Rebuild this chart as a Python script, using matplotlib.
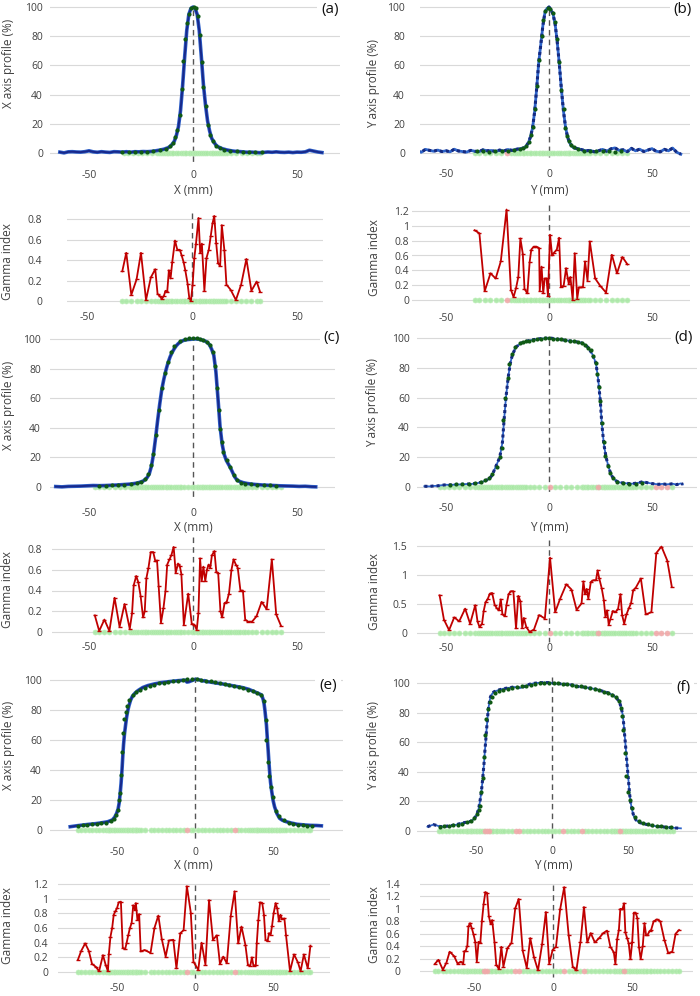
import numpy as np
import matplotlib.pyplot as plt

plt.rcParams['font.family'] = ['Open Sans', 'DejaVu Sans']

W, H = 700, 996

# ---------------- data (mm, value) ----------------
# (a) X profile, narrow field
a_meas = [(-64, 0.6), (-62, 0.1), (-60, 0.8), (-58, 0.9), (-56, 0.7), (-54, 0.6), (-52, 0.9), (-50, 1.5),
          (-48, 0.8), (-46, 0.5), (-44, 0.9), (-42, 0.6), (-40, 0.4), (-38, 0.9), (-36, 0.8), (-34, 0.6),
          (-32, 0.9), (-30, 0.5), (-28, 0.9), (-26, 0.8), (-24, 1.0), (-22, 0.9), (-20, 1.1), (-18, 1.5),
          (-16, 2.0), (-14, 2.6), (-12, 3.6), (-11, 4.5), (-10, 6), (-9, 8), (-8, 12), (-7, 18), (-6, 29),
          (-5, 46), (-4, 66), (-3, 84), (-2, 95), (-1, 99), (0, 100), (1, 99), (2, 95), (3, 84), (4, 66),
          (5, 47), (6, 33), (7, 22), (8, 15), (9, 10), (10, 7.5), (11, 5.5), (12, 4.3), (14, 3.0), (16, 2.2),
          (18, 1.6), (20, 1.2), (22, 1.0), (24, 0.8), (26, 0.5), (28, 0.6), (30, 0.4), (32, 0.2), (34, 0.4),
          (36, 0.7), (38, 0.5), (40, 0.8), (42, 0.5), (44, 0.4), (46, 0.6), (48, 0.3), (50, 0.6), (52, 0.5),
          (54, 0.8), (56, 1.9), (58, 1.3), (60, 0.7), (62, 0.3)]
a_calc = [(-34, 0.8), (-31, 0.9), (-28, 0.8), (-25, 1.0), (-22, 1.0), (-19, 1.2), (-16, 1.8), (-13, 2.8),
          (-11, 4.5), (-9.7, 7), (-8.5, 10.7), (-7.5, 16), (-6.2, 26), (-5.2, 44), (-4.6, 63), (-3.7, 78),
          (-2.9, 89), (-2.1, 95), (-0.8, 99), (0.5, 100), (1.4, 99.5), (2.4, 94), (3.2, 81), (4.2, 62),
          (5.0, 45), (6.1, 32), (7.3, 19), (8.4, 12.5), (9.7, 8), (11, 5), (13, 3.2), (15, 2.2), (18, 1.5),
          (21, 1.2), (24, 1.0), (27, 0.9), (30, 0.8), (33, 0.8)]
a_gamma = [(-33.2, 0.29), (-31.3, 0.47), (-28.9, 0.06), (-26.4, 0.21), (-24.3, 0.47), (-21.9, 0.01),
           (-19.6, 0.23), (-17.5, 0.31), (-16.4, 0.07), (-15.4, 0.05), (-14.4, 0.02), (-13.4, 0.05),
           (-12.6, 0.10), (-11.8, 0.09), (-11.0, 0.30), (-10.2, 0.22), (-9.4, 0.38), (-8.1, 0.59),
           (-7.0, 0.50), (-5.8, 0.50), (-5.0, 0.45), (-4.0, 0.38), (-3.2, 0.30), (-2.1, 0.17), (-1.3, 0.03),
           (-0.5, 0.0), (0.3, 0.16), (1.1, 0.42), (1.9, 0.56), (3.1, 0.81), (3.9, 0.47), (4.7, 0.56),
           (5.9, 0.10), (6.9, 0.42), (8.0, 0.50), (8.9, 0.63), (9.8, 0.76), (10.6, 0.83), (11.5, 0.57),
           (12.4, 0.37), (13.4, 0.34), (14.2, 0.74), (15.4, 0.50), (16.4, 0.16), (18.4, 0.11), (20.9, 0.01),
           (23.4, 0.16), (25.9, 0.41), (28.3, 0.10), (30.8, 0.19), (32.4, 0.09)]

# (b) Y profile, narrow field
b_meas = [(-64, 1.5), (-62, 0.5), (-60, 2.5), (-58, 1.8), (-56, 1.2), (-54, 2.0), (-52, 1.0), (-50, 1.5),
          (-48, 0.8), (-46, 2.6), (-44, 1.4), (-42, 1.0), (-40, 0.6), (-38, 1.8), (-36, 1.2), (-34, 0.9),
          (-32, 2.2), (-30, 1.5), (-28, 1.7), (-26, 1.0), (-24, 2.0), (-22, 1.3), (-20, 2.4), (-18, 1.8),
          (-16, 2.5), (-14, 3.0), (-12, 3.5), (-11, 5), (-10, 7), (-9, 11), (-8, 17), (-7, 28), (-6, 44),
          (-5, 62), (-4, 74), (-3, 87), (-2, 96), (-1, 99), (0, 100), (1, 98), (2, 95), (3, 88), (4, 76),
          (5, 61), (6, 44), (7, 29), (8, 18), (9, 11), (10, 7), (11, 5), (12, 3.5), (14, 3.0), (16, 2.2),
          (18, 1.5), (20, 1.8), (22, 0.8), (24, 1.5), (26, 2.5), (28, 1.2), (30, 2.8), (32, 3.5), (34, 1.8),
          (36, 2.2), (38, 0.9), (40, 3.2), (42, 1.5), (44, 2.6), (46, 1.0), (48, 2.0), (50, 3.0), (52, 1.2),
          (54, 0.8), (56, 2.5), (58, 1.5), (60, 3.4), (62, 0.5), (64, -0.8)]
b_calc = [(-35, 1.5), (-32, 1.2), (-29, 1.0), (-26, 1.6), (-23, 1.2), (-20, 1.5), (-17, 2.0), (-14, 2.8),
          (-12.5, 3.6), (-11, 5), (-9.9, 7.5), (-8.9, 12), (-8.0, 17.6), (-6.8, 30), (-6.0, 46), (-5.0, 64),
          (-3.5, 80), (-2.7, 91), (-1.9, 97), (-0.6, 99), (0.5, 98.6), (1.7, 96), (3.0, 89.5), (3.8, 78),
          (5.0, 62), (6.0, 43), (7.1, 30), (7.9, 17), (8.7, 11.4), (9.5, 8), (10.6, 5.7), (12, 4), (14, 2.8),
          (17, 1.6), (20, 1.3), (23, 1.5), (26, 1.2), (29, 1.4), (32, 1.0), (35, 1.5)]
b_gamma = [(-36.1, 0.94), (-33.8, 0.90), (-31.2, 0.12), (-28.4, 0.36), (-25.9, 0.29), (-23.4, 0.52),
           (-20.6, 1.22), (-18.5, 0.14), (-17.2, 0.04), (-16.0, 0.16), (-14.9, 0.31), (-13.9, 0.83),
           (-12.7, 0.62), (-11.9, 0.15), (-10.5, 0.09), (-9.4, 0.51), (-8.6, 0.68), (-7.4, 0.72),
           (-6.1, 0.72), (-4.8, 0.70), (-4.5, 0.12), (-3.6, 0.45), (-2.8, 0.09), (-2.1, 0.29), (-1.2, 0.29),
           (-0.5, 0.05), (0.5, 0.88), (1.5, 0.60), (2.5, 0.64), (3.8, 0.68), (4.9, 0.84), (5.8, 0.18),
           (7.1, 0.19), (8.3, 0.43), (9.1, 0.29), (9.6, 0.22), (10.4, 0.31), (11.5, 0.0), (12.5, 0.63),
           (13.7, 0.02), (14.5, 0.17), (15.7, 0.17), (16.5, 0.18), (17.5, 0.52), (18.7, 0.26), (19.8, 0.79),
           (22.4, 0.29), (24.9, 0.19), (27.7, 0.10), (30.5, 0.61), (33.0, 0.36), (35.6, 0.58), (38.1, 0.48)]

# (c) X profile, medium field
c_meas = [(-66, 0.3), (-63, 0.1), (-60, 0.4), (-57, 0.5), (-54, 0.6), (-51, 0.8), (-48, 1.0), (-45, 0.9),
          (-42, 1.0), (-39, 1.2), (-36, 1.4), (-33, 1.7), (-30, 2.0), (-28, 2.4), (-26, 3.0), (-24, 4.0),
          (-23, 5.0), (-22, 6.5), (-21, 9), (-20, 14), (-19, 22), (-18, 33), (-17, 45), (-16, 56), (-15, 66),
          (-14, 73), (-13, 79), (-12, 84), (-11, 88), (-10, 91), (-9, 93.5), (-8, 95.5), (-7, 97), (-6, 98),
          (-5, 98.8), (-4, 99.3), (-3, 99.5), (-2, 99.7), (-1, 99.8), (0, 100), (1, 100), (2, 100), (3, 99.8),
          (4, 99.5), (5, 99), (6, 98.5), (7, 97.5), (8, 96), (9, 93), (10, 89), (11, 78), (12, 60), (13, 41),
          (14, 29), (15, 22), (16, 18), (17, 15.5), (18, 13), (19, 10), (20, 7), (21, 5), (22, 4), (24, 3.0),
          (26, 2.4), (28, 2.0), (30, 1.7), (33, 1.4), (36, 1.2), (39, 1.0), (42, 0.8), (45, 0.7), (48, 0.6),
          (51, 0.4), (54, 0.5), (57, 0.2), (59, 0.1)]
c_calc = [(-45, 0.9), (-42, 1.0), (-39, 1.1), (-36, 1.3), (-33, 1.6), (-30, 2.0), (-27, 2.6), (-25, 3.2),
          (-23, 5.5), (-21.5, 9), (-20.3, 14.7), (-19.1, 22.6), (-17.8, 35), (-16.5, 52), (-15.0, 66.6),
          (-13.4, 76.7), (-12.1, 84.7), (-10.5, 91), (-8.9, 95.5), (-6.4, 98.6), (-4, 100), (-2, 100.5),
          (0, 100.5), (2, 100.5), (3.3, 100), (5, 99.5), (6.5, 98), (8.1, 96), (9.7, 91), (10.7, 82),
          (11.7, 66.6), (12.3, 52), (13.0, 39.5), (13.8, 30.5), (14.6, 23.7), (16.3, 18), (17.9, 13.5),
          (19.6, 8), (21.2, 4.5), (22.9, 2.7), (25, 2.2), (28, 1.8), (31, 1.5), (34, 1.3), (37, 1.1), (40, 1.0)]
c_gamma = [(-47.2, 0.16), (-45.1, 0.01), (-42.6, 0.12), (-40.2, 0.01), (-37.7, 0.33), (-35.3, 0.05),
           (-32.9, 0.27), (-30.4, 0.03), (-29.3, 0.18), (-28.5, 0.45), (-27.3, 0.54), (-26.3, 0.48),
           (-25.2, 0.35), (-24.0, 0.14), (-23.2, 0.20), (-22.4, 0.52), (-21.4, 0.62), (-20.3, 0.77),
           (-19.1, 0.77), (-18.1, 0.68), (-17.3, 0.69), (-16.5, 0.44), (-15.4, 0.09), (-14.2, 0.23),
           (-13.2, 0.40), (-12.4, 0.65), (-11.3, 0.70), (-10.4, 0.74), (-9.3, 0.82), (-8.3, 0.57),
           (-7.2, 0.66), (-6.4, 0.64), (-5.6, 0.56), (-4.4, 0.07), (-2.3, 0.37), (-0.6, 0.08), (0.7, 0.07),
           (1.8, 0.02), (2.6, 0.18), (3.4, 0.71), (4.2, 0.49), (5.0, 0.63), (5.9, 0.49), (6.7, 0.60),
           (7.5, 0.65), (8.3, 0.62), (9.1, 0.74), (10.3, 0.78), (11.2, 0.58), (12.1, 0.57), (13.2, 0.20),
           (14.0, 0.14), (15.2, 0.28), (16.2, 0.29), (17.3, 0.37), (18.5, 0.60), (19.5, 0.70), (20.6, 0.65),
           (21.5, 0.62), (22.8, 0.40), (24.0, 0.40), (25.1, 0.12), (26.4, 0.10), (28.4, 0.10), (30.5, 0.15),
           (33.0, 0.29), (35.4, 0.22), (37.9, 0.70), (40.0, 0.17), (42.3, 0.06)]

# (d) Y profile, medium field
d_meas = [(-60.5, 0.5), (-58, 0.4), (-56, 0.7), (-54, 0.8), (-52, 1.2), (-50, 1.5), (-48, 1.4), (-46, 1.6),
          (-44, 1.7), (-42, 1.8), (-40, 2.0), (-38, 2.0), (-36, 2.3), (-34, 2.8), (-32.5, 3.4), (-31, 4.2),
          (-29, 5.5), (-27.6, 7.9), (-25.9, 13.5), (-24.8, 17), (-23.9, 20), (-22.6, 30), (-21.8, 45),
          (-20.9, 60), (-19.8, 73.7), (-18.8, 83), (-17.7, 89), (-16, 94), (-13.5, 96.6), (-11, 97.8),
          (-9.4, 98.4), (-7, 99), (-4.5, 99.5), (-2, 99.8), (0.5, 100), (3, 99.5), (5.4, 99), (8, 98.5),
          (10.4, 98), (13, 97.5), (15.3, 97), (17, 96), (18.7, 94), (20, 91.5), (21.1, 89), (22.8, 83),
          (23.9, 72), (24.9, 58), (25.6, 43), (26.6, 29), (27.7, 20), (28.9, 13.5), (30.2, 8), (31.5, 5.5),
          (32.7, 4), (34.5, 3), (36, 2.7), (38, 2.4), (40, 2.2), (42, 2.5), (44, 3.0), (45, 3.4), (46.5, 3.2),
          (48.4, 2.7), (50, 2.3), (51.5, 2.0), (53.3, 1.8), (55, 2.1), (57, 1.8), (59, 2.0), (60, 2.2),
          (62, 1.6), (64, 2.4), (65, 1.8)]
d_calc = [(-48, 1.6), (-45, 1.8), (-42, 2.0), (-39, 2.1), (-36, 2.4), (-33, 3.3), (-31, 4.4), (-29, 6),
          (-27.5, 8.5), (-25.4, 13.5), (-23.9, 20), (-22.9, 26.5), (-22.1, 45), (-21.4, 60), (-20.0, 73),
          (-19.2, 82.5), (-18, 89), (-16.4, 94), (-14, 96.5), (-12.5, 97.3), (-11, 97.8), (-9.5, 98.3),
          (-8, 98.8), (-6, 99.2), (-4, 99.5), (-2, 99.7), (0, 100), (2, 99.6), (4, 99.3), (6, 99), (8, 98.5),
          (10, 98.2), (12, 97.8), (14, 97.3), (16, 96.6), (17.5, 95), (19, 93), (20.5, 92), (21.6, 88),
          (22.6, 83), (23.5, 76), (24.1, 67), (24.9, 58), (25.6, 43), (26.5, 30), (27.4, 21), (28.4, 14),
          (29.6, 9.5), (31, 6), (33, 3.5), (36, 2.4), (39, 2.0), (42, 2.2), (45, 2.6)]
d_gamma = [(-53.1, 0.65), (-51.0, 0.23), (-48.5, 0.05), (-46.0, 0.27), (-43.6, 0.20), (-40.7, 0.42),
           (-38.3, 0.16), (-35.8, 0.48), (-34.7, 0.20), (-33.7, 0.10), (-32.5, 0.16), (-31.7, 0.38),
           (-30.8, 0.53), (-29.7, 0.59), (-28.7, 0.68), (-27.6, 0.69), (-26.4, 0.49), (-25.4, 0.43),
           (-24.3, 0.39), (-23.4, 0.58), (-22.6, 0.32), (-21.4, 0.29), (-20.6, 0.49), (-19.6, 0.67),
           (-18.5, 0.72), (-17.3, 0.72), (-16.0, 0.08), (-14.9, 0.64), (-13.9, 0.55), (-13.0, 0.09),
           (-12.2, 0.26), (-11.0, 0.10), (-9.4, 0.02), (-7.3, 0.06), (-4.8, 0.31), (-2.0, 0.25), (0.5, 1.30),
           (3.0, 0.36), (5.4, 0.59), (8.4, 0.84), (10.9, 0.75), (13.4, 0.40), (15.8, 0.51), (16.7, 0.89),
           (17.5, 0.67), (18.3, 0.76), (19.1, 0.59), (20.3, 0.88), (21.5, 0.91), (22.8, 0.91), (23.6, 1.08),
           (24.4, 0.94), (25.6, 0.77), (26.6, 0.57), (27.4, 0.28), (28.2, 0.39), (29.0, 0.14), (29.9, 0.25),
           (31.0, 0.38), (32.2, 0.36), (33.5, 0.41), (34.7, 0.67), (35.5, 0.31), (36.5, 0.16), (37.6, 0.32),
           (38.8, 0.43), (39.8, 0.51), (40.9, 0.74), (42.1, 0.78), (44.6, 0.94), (47.0, 0.32), (49.7, 0.36),
           (52.1, 1.38), (54.6, 1.49), (57.4, 1.25), (59.6, 0.80)]

# (e) X profile, large field
e_meas = [(-80, 2.2), (-76, 2.8), (-72, 3.3), (-68, 3.8), (-64, 4.2), (-60, 4.8), (-56, 5.5), (-53, 6.7),
          (-51.5, 8.5), (-50.3, 11), (-49.3, 14), (-48.6, 18), (-48, 24), (-47.4, 31), (-46.8, 40),
          (-46.3, 49), (-45.8, 57), (-45.2, 64), (-44.5, 70), (-43.8, 75.5), (-43, 80), (-42.3, 83),
          (-41.3, 86.5), (-40.2, 89), (-38.5, 91.2), (-36.5, 93), (-33.5, 95), (-30.2, 96.3), (-26, 97.4),
          (-21.9, 98.2), (-16, 99), (-11.5, 99.5), (-8, 99.8), (-6.2, 99.9), (-5.2, 98.6), (-4, 98.8),
          (-2, 99.6), (0, 100.4), (1.5, 100.4), (3.1, 100), (5, 99.3), (6.2, 99.6), (7.3, 99), (10, 98.6),
          (13.5, 98), (17.5, 97.4), (21.9, 96.6), (26, 95.8), (30.2, 95), (34.5, 93.8), (38.5, 92),
          (40.8, 91), (42.7, 90), (43.7, 87), (44.3, 84), (44.8, 80), (45.3, 75), (45.8, 70), (46.3, 62),
          (46.9, 53), (47.4, 45), (47.9, 38), (48.4, 32), (49, 27), (50, 20), (51, 15.5), (52.5, 11),
          (54.2, 7.8), (56, 6.5), (58.3, 5.6), (62, 4.6), (65.6, 3.8), (70, 3.4), (74, 3.1), (78, 3.0), (81, 2.8)]
e_calc = [(-75, 2.8), (-72, 3.2), (-69, 3.5), (-66, 3.7), (-63, 4.0), (-60, 4.4), (-57, 5.0), (-54, 6.0),
          (-52, 7.5), (-50.5, 10), (-49.5, 13.5), (-48.6, 20), (-47.9, 24.5), (-47.3, 37), (-46.6, 52),
          (-46.1, 65), (-45.3, 74), (-44.3, 79), (-43.3, 83), (-42, 86.5), (-40, 90), (-38, 92), (-35, 93.6),
          (-32, 95), (-29, 96), (-26, 97), (-23, 97.8), (-20, 98.3), (-17, 98.8), (-14, 99.2), (-11, 99.6),
          (-8, 100), (-5, 100.4), (-2, 100.6), (1, 100.6), (4, 100.2), (7, 99.6), (10, 99.2), (13, 98.6),
          (16, 98), (19, 97.4), (22, 96.8), (25, 96.2), (28, 95.5), (31, 94.6), (34, 93.6), (37, 92.6),
          (40, 91.5), (42.5, 90.2), (44.3, 86), (45.2, 73.3), (45.8, 60), (46.9, 45.5), (47.6, 36),
          (48.5, 29), (50, 22), (52, 13), (54, 9.5), (57, 6.5), (60, 5), (63, 4.2), (66, 3.6), (69, 3.3),
          (72, 3.0), (75, 2.8)]
e_gamma = [(-75.0, 0.17), (-72.9, 0.29), (-70.4, 0.39), (-68.1, 0.29), (-66.0, 0.11), (-63.5, 0.07),
           (-61.5, 0.01), (-59.0, 0.23), (-57.3, 0.10), (-55.8, 0.01), (-55.2, 0.25), (-54.2, 0.48),
           (-53.1, 0.60), (-52.1, 0.78), (-51.0, 0.83), (-50.0, 0.87), (-48.9, 0.95), (-47.5, 0.96),
           (-46.3, 0.33), (-44.8, 0.31), (-43.8, 0.40), (-42.7, 0.51), (-41.7, 0.60), (-40.6, 0.67),
           (-39.6, 0.91), (-38.5, 0.85), (-37.9, 0.94), (-36.9, 0.71), (-35.8, 0.79), (-34.8, 0.28),
           (-32.3, 0.30), (-28.5, 0.26), (-26.0, 0.60), (-23.5, 0.77), (-21.3, 0.45), (-18.8, 0.21),
           (-16.7, 0.43), (-13.9, 0.44), (-11.9, 0.05), (-9.4, 0.53), (-7.3, 0.57), (-5.2, 1.17),
           (-2.7, 0.81), (-1.0, 0.14), (2.1, 0.03), (4.2, 0.40), (6.7, 0.10), (9.0, 0.98), (11.5, 0.44),
           (14.0, 0.50), (16.0, 0.11), (18.1, 0.21), (20.4, 0.12), (22.9, 0.76), (25.4, 1.10), (27.7, 0.39),
           (29.8, 0.62), (32.3, 0.37), (33.9, 0.10), (35.4, 0.08), (36.5, 0.20), (37.5, 0.08), (39.0, 0.10),
           (39.6, 0.39), (40.6, 0.71), (41.7, 0.95), (43.1, 0.94), (44.2, 0.78), (45.2, 0.44), (46.5, 0.42),
           (47.5, 0.53), (48.5, 0.51), (49.4, 0.63), (50.4, 0.80), (51.7, 0.94), (52.7, 0.87), (53.8, 0.69),
           (54.8, 0.78), (55.8, 0.72), (57.3, 0.73), (58.3, 0.51), (60.9, 0.01), (63.5, 0.24), (66.0, 0.13),
           (67.7, 0.01), (69.8, 0.24), (72.3, 0.05), (74.0, 0.36)]

# (f) Y profile, large field
f_meas = [(-81.9, 2.9), (-80, 3.6), (-78, 4.3), (-76, 3.8), (-73.2, 2.9), (-70, 3.2), (-66.7, 3.6), (-63, 4.2),
          (-60.1, 5.2), (-57, 5.8), (-53.6, 6.5), (-51.5, 8), (-50.3, 9.7), (-49.2, 12), (-48.2, 15.3),
          (-47.4, 20), (-46.6, 25.4), (-45.9, 32), (-45.3, 38.9), (-44.7, 46), (-44.2, 53.5), (-43.6, 61),
          (-43.1, 68), (-42.5, 75), (-42.0, 81.6), (-41.2, 87), (-40.5, 90.6), (-39.5, 92.5), (-38.3, 94),
          (-35, 95.3), (-31.8, 96.2), (-28, 96.8), (-25.3, 97.3), (-22.5, 97), (-20.9, 96.6), (-18, 97.8),
          (-14.4, 99.3), (-11, 99.9), (-7.8, 100.2), (-4, 100.3), (-1.3, 100.2), (2, 99.6), (5.2, 99.5),
          (8.5, 99.2), (11.8, 98.9), (15, 98.4), (17, 97.6), (20.5, 97.3), (25, 96.5), (28, 96), (31.4, 95),
          (35, 94), (37.8, 93), (40.1, 91.7), (42.5, 89.8), (44.4, 87.2), (45.6, 83), (46.6, 78.2),
          (47.2, 72), (47.7, 65.8), (48.3, 59), (48.8, 52.4), (49.4, 45), (49.9, 38.9), (50.5, 32),
          (51.0, 25.4), (51.8, 19), (52.7, 14.2), (53.8, 10), (55.3, 7.4), (57.5, 5.7), (61.9, 4.5), (66, 3.6),
          (70.6, 2.9), (75, 2.6), (79.3, 2.2), (82, 2.0), (84.8, 1.8)]
f_calc = [(-74, 3.0), (-71, 3.2), (-68, 3.4), (-65, 3.8), (-62, 4.3), (-59, 5.0), (-56, 5.8), (-53, 7.0),
          (-51, 8.5), (-49.5, 11.5), (-48.3, 14.5), (-47.5, 16.9), (-46.6, 26.5), (-45.5, 36), (-44.9, 50),
          (-44.2, 64.7), (-43.1, 76), (-42, 82.7), (-40.9, 87.2), (-39.5, 90.6), (-37.5, 93), (-35, 94.3),
          (-32, 95.3), (-29, 96.2), (-26, 96.8), (-23, 97.4), (-20, 97.8), (-17, 98.3), (-14, 98.8),
          (-11, 99.3), (-8, 99.7), (-5, 100), (-2, 100.2), (1, 100.2), (4, 100), (7, 99.6), (10, 99.2),
          (13, 98.8), (16, 98.3), (19, 97.8), (22, 97.2), (25, 96.6), (28, 95.8), (31, 95), (34, 94), (37, 93),
          (39.5, 92), (42, 90.3), (44, 88), (45.5, 83), (46.2, 77.5), (46.6, 68.5), (47.7, 52.4), (48.8, 37),
          (49.9, 26.5), (51, 21), (52.7, 15.3), (54.9, 9.7), (57, 6.8), (60, 5.4), (63, 4.5), (66, 4.0),
          (69, 3.6), (72, 3.3), (75, 3.0), (78, 2.8)]
f_gamma = [(-74.6, 0.12), (-72.5, 0.18), (-69.7, 0.02), (-67.5, 0.13), (-65.4, 0.31), (-62.6, 0.24),
           (-60.4, 0.12), (-58.3, 0.15), (-56.8, 0.12), (-56.1, 0.32), (-55.3, 0.32), (-54.2, 0.41),
           (-53.5, 0.72), (-52.5, 0.77), (-51.4, 0.69), (-50.3, 0.59), (-49.2, 0.47), (-48.2, 0.15),
           (-47.1, 0.47), (-46.0, 0.45), (-45.0, 0.80), (-43.9, 1.08), (-42.8, 1.27), (-41.7, 1.25),
           (-40.6, 0.88), (-39.5, 0.76), (-38.5, 0.82), (-37.0, 0.46), (-35.9, 0.10), (-34.2, 0.03),
           (-32.7, 0.39), (-31.4, 0.07), (-28.8, 0.37), (-26.3, 0.45), (-23.9, 1.01), (-21.7, 1.16),
           (-19.2, 0.33), (-16.6, 0.05), (-14.4, 0.53), (-12.1, 0.23), (-9.5, 0.01), (-6.9, 0.43),
           (-4.5, 0.95), (-2.4, 0.12), (-0.2, 0.34), (1.9, 0.39), (4.5, 0.99), (7.1, 1.35), (9.9, 0.58),
           (12.5, 0.07), (14.8, 0.01), (17.4, 0.47), (19.6, 1.03), (21.7, 0.46), (23.9, 0.61), (26.5, 0.46),
           (29.2, 0.53), (31.8, 0.61), (34.2, 0.65), (36.3, 0.39), (38.5, 0.30), (39.5, 0.11), (40.6, 0.51),
           (41.7, 0.66), (42.6, 1.00), (43.9, 0.99), (45.0, 1.09), (45.8, 0.62), (46.9, 0.53), (47.9, 0.45),
           (49.0, 0.19), (50.1, 0.46), (51.2, 0.94), (52.3, 0.94), (53.4, 0.85), (54.4, 0.39), (55.5, 0.19),
           (56.8, 0.40), (57.9, 0.77), (58.9, 0.58), (59.8, 0.58), (61.1, 0.64), (62.1, 0.66), (63.7, 0.80),
           (65.8, 0.83), (67.9, 0.80), (70.5, 0.50), (72.9, 0.29), (75.5, 0.31), (77.6, 0.60), (79.8, 0.66)]

prof_ticks = [0, 20, 40, 60, 80, 100]
gamma_ticks = {
    'a': [0, 0.2, 0.4, 0.6, 0.8],
    'b': [0, 0.2, 0.4, 0.6, 0.8, 1, 1.2],
    'c': [0, 0.2, 0.4, 0.6, 0.8],
    'd': [0, 0.5, 1, 1.5],
    'e': [0, 0.2, 0.4, 0.6, 0.8, 1, 1.2],
    'f': [0, 0.2, 0.4, 0.6, 0.8, 1, 1.2, 1.4],
}

# ---------------- layout (pixels) ----------------
# gx0, gx1, px of 0 mm, px of 50 mm, y px of top tick, top tick value, y px of 0, ytick gap, xtick offset,
# dashed line y range
geom = {
    'a_p': (50, 340, 193, 297, 7, 100, 153, 7, 22, (10, 163)),
    'a_g': (67, 323, 192, 297, 219, 0.8, 301, 25, 16, (213, 303)),
    'b_p': (420, 690, 549, 652, 7, 100, 153, 15, 21, (10, 157)),
    'b_g': (412, 690, 549, 652, 211, 1.2, 300, 3, 18, (205, 308)),
    'c_p': (50, 335, 193, 297, 339, 100, 487, 9, 26, (345, 500)),
    'c_g': (52, 325, 193, 297, 549, 0.8, 632, 10, 15, (537, 632)),
    'd_p': (417, 697, 549, 652, 338, 100, 487, 7, 21, (340, 495)),
    'd_g': (417, 693, 549, 652, 546, 1.5, 633, 10, 15, (540, 642)),
    'e_p': (50, 343, 195, 273, 680, 100, 830, 8, 22, (677, 840)),
    'e_g': (58, 330, 195, 273, 884, 1.2, 972, 10, 16, (885, 980)),
    'f_p': (417, 697, 552, 628, 683, 100, 831, 7, 20, (677, 838)),
    'f_g': (420, 693, 553, 632, 884, 1.4, 971, 20, 17, (885, 977)),
}

TXT = '#404040'
GRID = '#d9d9d9'
EXT = 6

fig = plt.figure(figsize=(W / 100, H / 100), dpi=100)


def make_axes(key, yticks):
    gx0, gx1, p0, p50, yt, ytv, y0, ypad, xoff, dash = geom[key]
    s = (p50 - p0) / 50.0
    sy = (y0 - yt) / ytv
    top, bot = yt - EXT, y0 + EXT
    ax = fig.add_axes([gx0 / W, 1 - bot / H, (gx1 - gx0) / W, (bot - top) / H])
    ax.set_xlim((gx0 - p0) / s, (gx1 - p0) / s)
    ax.set_ylim(-EXT / sy, ytv + EXT / sy)
    for sp in ax.spines.values():
        sp.set_visible(False)
    ax.set_yticks(yticks)
    ax.set_yticklabels(['%g' % t for t in yticks])
    ax.set_xticks([-50, 0, 50])
    ax.set_xticklabels(['-50', '0', '50'])
    ax.tick_params(length=0, labelsize=7.5, colors=TXT)
    ax.tick_params(axis='y', pad=ypad * 0.72)
    ax.tick_params(axis='x', pad=max(xoff - 5 - EXT, 0) * 0.72)
    ax.yaxis.grid(True, color=GRID, lw=0.8)
    ax.set_axisbelow(True)
    ax.patch.set_alpha(0)
    # dashed centre line
    ax.plot([0, 0], [(y0 - dash[0]) / sy, (y0 - dash[1]) / sy], ls=(0, (4, 3)), color='#555555',
            lw=1.0, clip_on=False, zorder=1)
    return ax


def pass_band(ax, gam):
    g = np.array(gam)
    ok = g[:, 1] <= 1
    ax.plot(g[ok, 0], np.zeros(ok.sum()), 'o', ms=3.6, mfc='#a9e8a5', mec='#bdeeb9', mew=0.5,
            alpha=0.9, zorder=2, clip_on=False)
    ax.plot(g[~ok, 0], np.zeros((~ok).sum()), 'o', ms=3.6, mfc='#f2a8a8', mec='#eab0b0', mew=0.5,
            alpha=0.9, zorder=2, clip_on=False)


def draw_profile(key, meas, calc, gam, dotted, base_lw=1.3):
    ax = make_axes(key, prof_ticks)
    pass_band(ax, gam)
    m = np.array(meas)
    c = np.array(calc)
    if dotted:
        ax.plot(m[:, 0], m[:, 1], color='#2d63c8', lw=base_lw, zorder=3)
        ax.plot(m[:, 0], m[:, 1], color='#152a80', lw=2.2, ls=(0, (1, 1)), zorder=3)
    else:
        ax.plot(m[:, 0], m[:, 1], color='#2d5fc8', lw=2.6, zorder=3)
        ax.plot(m[:, 0], m[:, 1], color='#18288a', lw=1.4, zorder=3)
    ax.plot(c[:, 0], c[:, 1], 'o', ms=3.0, color='#0f5a14', mew=0, zorder=4)
    return ax


def draw_gamma(key, gam, yticks):
    ax = make_axes(key, yticks)
    pass_band(ax, gam)
    g = np.array(gam)
    ax.plot(g[:, 0], g[:, 1], color='#c00000', lw=1.3, marker='_', ms=3.5, mew=1.0, zorder=3)
    return ax


draw_profile('a_p', a_meas, a_calc, a_gamma, False)
draw_gamma('a_g', a_gamma, gamma_ticks['a'])
draw_profile('b_p', b_meas, b_calc, b_gamma, True, base_lw=2.0)
draw_gamma('b_g', b_gamma, gamma_ticks['b'])
draw_profile('c_p', c_meas, c_calc, c_gamma, False)
draw_gamma('c_g', c_gamma, gamma_ticks['c'])
draw_profile('d_p', d_meas, d_calc, d_gamma, True)
draw_gamma('d_g', d_gamma, gamma_ticks['d'])
draw_profile('e_p', e_meas, e_calc, e_gamma, False)
draw_gamma('e_g', e_gamma, gamma_ticks['e'])
draw_profile('f_p', f_meas, f_calc, f_gamma, True)
draw_gamma('f_g', f_gamma, gamma_ticks['f'])


def ftext(x, y, s, **kw):
    fig.text(x / W, 1 - y / H, s, ha='center', va='center', **kw)


# axis titles
for x, y, s in [(9, 63, 'X axis profile (%)'), (374, 84, 'Y axis profile (%)'),
                (9, 405, 'X axis profile (%)'), (373, 402, 'Y axis profile (%)'),
                (9, 745, 'X axis profile (%)'), (374, 745, 'Y axis profile (%)')]:
    ftext(x, y, s, rotation=90, fontsize=8.5, color=TXT)
for x, y in [(8, 262), (374, 258), (8, 590), (375, 592), (8, 926), (375, 925)]:
    ftext(x, y, 'Gamma index', rotation=90, fontsize=8.5, color=TXT)
for x, y, s in [(193, 190, 'X (mm)'), (549, 190, 'Y (mm)'), (193, 527, 'X (mm)'),
                (549, 527, 'Y (mm)'), (193, 865, 'X (mm)'), (553, 865, 'Y (mm)')]:
    ftext(x, y, s, fontsize=8.5, color=TXT)

# panel tags
for x, y, s in [(330, 9, '(a)'), (683, 9, '(b)'), (332, 338, '(c)'), (684, 337, '(d)'),
                (328, 685, '(e)'), (683, 687, '(f)')]:
    ftext(x, y, s, fontsize=11, color='#111111',
          bbox=dict(boxstyle='square,pad=0.25', fc='white', ec='none'))

fig.savefig('out.png', dpi=100)
